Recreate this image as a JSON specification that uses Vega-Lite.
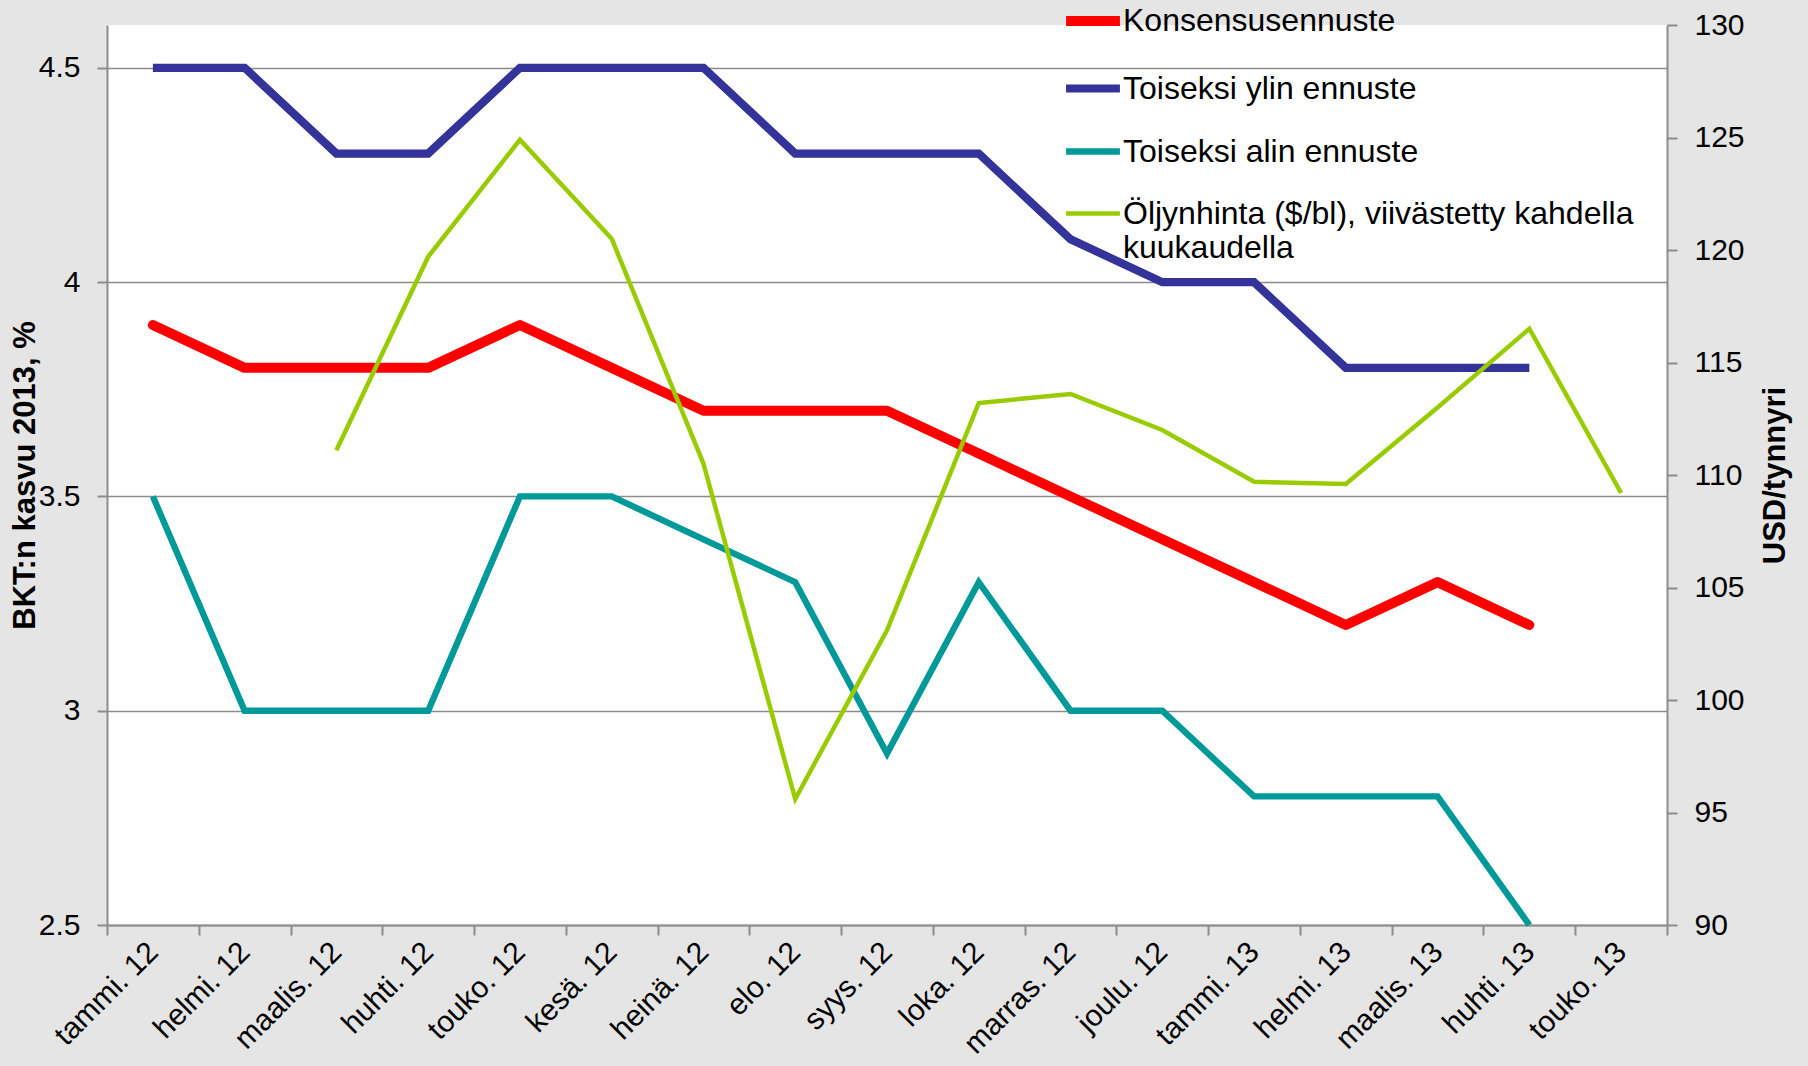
{
  "$schema": "https://vega.github.io/schema/vega-lite/v6.json",
  "width": 1560,
  "height": 900,
  "autosize": {"type": "none"},
  "padding": {"left": 107, "top": 25, "right": 141, "bottom": 141},
  "background": "#e4e5e4",
  "config": {
    "font": "Liberation Sans",
    "view": {"fill": "white", "stroke": null},
    "axis": {
      "domainColor": "#8c8c8c",
      "domainWidth": 2,
      "tickColor": "#8c8c8c",
      "tickWidth": 2,
      "tickSize": 10,
      "labelColor": "black",
      "labelFontSize": 30,
      "labelFont": "Liberation Sans",
      "titleColor": "black",
      "titleFont": "Liberation Sans",
      "titleFontWeight": "bold",
      "titleFontSize": 31,
      "gridColor": "#8c8c8c",
      "gridWidth": 1.5
    }
  },
  "data": {
    "values": [
      {"month": "tammi. 12", "series": "Konsensusennuste", "value": 3.9},
      {"month": "helmi. 12", "series": "Konsensusennuste", "value": 3.8},
      {"month": "maalis. 12", "series": "Konsensusennuste", "value": 3.8},
      {"month": "huhti. 12", "series": "Konsensusennuste", "value": 3.8},
      {"month": "touko. 12", "series": "Konsensusennuste", "value": 3.9},
      {"month": "kesä. 12", "series": "Konsensusennuste", "value": 3.8},
      {"month": "heinä. 12", "series": "Konsensusennuste", "value": 3.7},
      {"month": "elo. 12", "series": "Konsensusennuste", "value": 3.7},
      {"month": "syys. 12", "series": "Konsensusennuste", "value": 3.7},
      {"month": "loka. 12", "series": "Konsensusennuste", "value": 3.6},
      {"month": "marras. 12", "series": "Konsensusennuste", "value": 3.5},
      {"month": "joulu. 12", "series": "Konsensusennuste", "value": 3.4},
      {"month": "tammi. 13", "series": "Konsensusennuste", "value": 3.3},
      {"month": "helmi. 13", "series": "Konsensusennuste", "value": 3.2},
      {"month": "maalis. 13", "series": "Konsensusennuste", "value": 3.3},
      {"month": "huhti. 13", "series": "Konsensusennuste", "value": 3.2},

      {"month": "tammi. 12", "series": "Toiseksi ylin ennuste", "value": 4.5},
      {"month": "helmi. 12", "series": "Toiseksi ylin ennuste", "value": 4.5},
      {"month": "maalis. 12", "series": "Toiseksi ylin ennuste", "value": 4.3},
      {"month": "huhti. 12", "series": "Toiseksi ylin ennuste", "value": 4.3},
      {"month": "touko. 12", "series": "Toiseksi ylin ennuste", "value": 4.5},
      {"month": "kesä. 12", "series": "Toiseksi ylin ennuste", "value": 4.5},
      {"month": "heinä. 12", "series": "Toiseksi ylin ennuste", "value": 4.5},
      {"month": "elo. 12", "series": "Toiseksi ylin ennuste", "value": 4.3},
      {"month": "syys. 12", "series": "Toiseksi ylin ennuste", "value": 4.3},
      {"month": "loka. 12", "series": "Toiseksi ylin ennuste", "value": 4.3},
      {"month": "marras. 12", "series": "Toiseksi ylin ennuste", "value": 4.1},
      {"month": "joulu. 12", "series": "Toiseksi ylin ennuste", "value": 4.0},
      {"month": "tammi. 13", "series": "Toiseksi ylin ennuste", "value": 4.0},
      {"month": "helmi. 13", "series": "Toiseksi ylin ennuste", "value": 3.8},
      {"month": "maalis. 13", "series": "Toiseksi ylin ennuste", "value": 3.8},
      {"month": "huhti. 13", "series": "Toiseksi ylin ennuste", "value": 3.8},

      {"month": "tammi. 12", "series": "Toiseksi alin ennuste", "value": 3.5},
      {"month": "helmi. 12", "series": "Toiseksi alin ennuste", "value": 3.0},
      {"month": "maalis. 12", "series": "Toiseksi alin ennuste", "value": 3.0},
      {"month": "huhti. 12", "series": "Toiseksi alin ennuste", "value": 3.0},
      {"month": "touko. 12", "series": "Toiseksi alin ennuste", "value": 3.5},
      {"month": "kesä. 12", "series": "Toiseksi alin ennuste", "value": 3.5},
      {"month": "heinä. 12", "series": "Toiseksi alin ennuste", "value": 3.4},
      {"month": "elo. 12", "series": "Toiseksi alin ennuste", "value": 3.3},
      {"month": "syys. 12", "series": "Toiseksi alin ennuste", "value": 2.9},
      {"month": "loka. 12", "series": "Toiseksi alin ennuste", "value": 3.3},
      {"month": "marras. 12", "series": "Toiseksi alin ennuste", "value": 3.0},
      {"month": "joulu. 12", "series": "Toiseksi alin ennuste", "value": 3.0},
      {"month": "tammi. 13", "series": "Toiseksi alin ennuste", "value": 2.8},
      {"month": "helmi. 13", "series": "Toiseksi alin ennuste", "value": 2.8},
      {"month": "maalis. 13", "series": "Toiseksi alin ennuste", "value": 2.8},
      {"month": "huhti. 13", "series": "Toiseksi alin ennuste", "value": 2.5},

      {"month": "maalis. 12", "series": "Öljynhinta ($/bl), viivästetty kahdella kuukaudella", "value": 111.1},
      {"month": "huhti. 12", "series": "Öljynhinta ($/bl), viivästetty kahdella kuukaudella", "value": 119.7},
      {"month": "touko. 12", "series": "Öljynhinta ($/bl), viivästetty kahdella kuukaudella", "value": 124.9},
      {"month": "kesä. 12", "series": "Öljynhinta ($/bl), viivästetty kahdella kuukaudella", "value": 120.5},
      {"month": "heinä. 12", "series": "Öljynhinta ($/bl), viivästetty kahdella kuukaudella", "value": 110.5},
      {"month": "elo. 12", "series": "Öljynhinta ($/bl), viivästetty kahdella kuukaudella", "value": 95.6},
      {"month": "syys. 12", "series": "Öljynhinta ($/bl), viivästetty kahdella kuukaudella", "value": 103.1},
      {"month": "loka. 12", "series": "Öljynhinta ($/bl), viivästetty kahdella kuukaudella", "value": 113.2},
      {"month": "marras. 12", "series": "Öljynhinta ($/bl), viivästetty kahdella kuukaudella", "value": 113.6},
      {"month": "joulu. 12", "series": "Öljynhinta ($/bl), viivästetty kahdella kuukaudella", "value": 112.0},
      {"month": "tammi. 13", "series": "Öljynhinta ($/bl), viivästetty kahdella kuukaudella", "value": 109.7},
      {"month": "helmi. 13", "series": "Öljynhinta ($/bl), viivästetty kahdella kuukaudella", "value": 109.6},
      {"month": "maalis. 13", "series": "Öljynhinta ($/bl), viivästetty kahdella kuukaudella", "value": 113.0},
      {"month": "huhti. 13", "series": "Öljynhinta ($/bl), viivästetty kahdella kuukaudella", "value": 116.5},
      {"month": "touko. 13", "series": "Öljynhinta ($/bl), viivästetty kahdella kuukaudella", "value": 109.2}
    ]
  },
  "encoding": {
    "x": {
      "field": "month",
      "type": "nominal",
      "bandPosition": 0.5,
      "scale": {
        "type": "band",
        "paddingInner": 0,
        "paddingOuter": 0,
        "domain": ["tammi. 12", "helmi. 12", "maalis. 12", "huhti. 12", "touko. 12", "kesä. 12", "heinä. 12", "elo. 12", "syys. 12", "loka. 12", "marras. 12", "joulu. 12", "tammi. 13", "helmi. 13", "maalis. 13", "huhti. 13", "touko. 13"]
      },
      "axis": {
        "title": null,
        "labelAngle": -45,
        "labelAlign": "right",
        "labelBaseline": "middle",
        "labelPadding": 12,
        "tickBand": "extent",
        "grid": false
      }
    },
    "color": {
      "field": "series",
      "type": "nominal",
      "scale": {
        "domain": ["Konsensusennuste", "Toiseksi ylin ennuste", "Toiseksi alin ennuste", "Öljynhinta ($/bl), viivästetty kahdella kuukaudella"],
        "range": ["#ff0000", "#333399", "#009999", "#99cc00"]
      },
      "legend": {
        "title": null,
        "orient": "none",
        "legendX": 954,
        "legendY": -36,
        "padding": 0,
        "symbolType": "stroke",
        "symbolSize": 2900,
        "labelFontSize": 32,
        "labelFont": "Liberation Sans",
        "labelColor": "black",
        "labelLimit": 800,
        "labelOffset": -2,
        "rowPadding": 16,
        "labelExpr": "datum.label == 'Öljynhinta ($/bl), viivästetty kahdella kuukaudella' ? ['Öljynhinta ($/bl), viivästetty kahdella', 'kuukaudella'] : datum.label"
      }
    },
    "strokeWidth": {
      "field": "series",
      "type": "nominal",
      "scale": {
        "domain": ["Konsensusennuste", "Toiseksi ylin ennuste", "Toiseksi alin ennuste", "Öljynhinta ($/bl), viivästetty kahdella kuukaudella"],
        "range": [10, 4.5, 5, 4]
      }
    }
  },
  "layer": [
    {
      "encoding": {
        "y": {
          "field": "value",
          "type": "quantitative",
          "scale": {"domain": [2.5, 4.6], "zero": false, "nice": false},
          "axis": {
            "title": "BKT:n kasvu 2013, %",
            "orient": "left",
            "values": [2.5, 3, 3.5, 4, 4.5],
            "grid": true,
            "labelPadding": 17,
            "titleAngle": -90,
            "titleBaseline": "middle",
            "titleX": -82,
            "format": "~g"
          }
        }
      },
      "layer": [
        {
          "transform": [{"filter": "datum.series == 'Toiseksi ylin ennuste' || datum.series == 'Toiseksi alin ennuste'"}],
          "mark": {"type": "line"}
        },
        {
          "transform": [{"filter": "datum.series == 'Konsensusennuste'"}],
          "mark": {"type": "line", "strokeCap": "round", "strokeJoin": "round"}
        }
      ]
    },
    {
      "transform": [{"filter": "datum.series == 'Öljynhinta ($/bl), viivästetty kahdella kuukaudella'"}],
      "mark": {"type": "line"},
      "encoding": {
        "y": {
          "field": "value",
          "type": "quantitative",
          "scale": {"domain": [90, 130], "zero": false, "nice": false},
          "axis": {
            "title": "USD/tynnyri",
            "orient": "right",
            "values": [90, 95, 100, 105, 110, 115, 120, 125, 130],
            "grid": false,
            "labelPadding": 17,
            "titleAngle": -90,
            "titleBaseline": "middle",
            "titleX": 108
          }
        }
      }
    }
  ],
  "resolve": {"scale": {"y": "independent"}}
}
